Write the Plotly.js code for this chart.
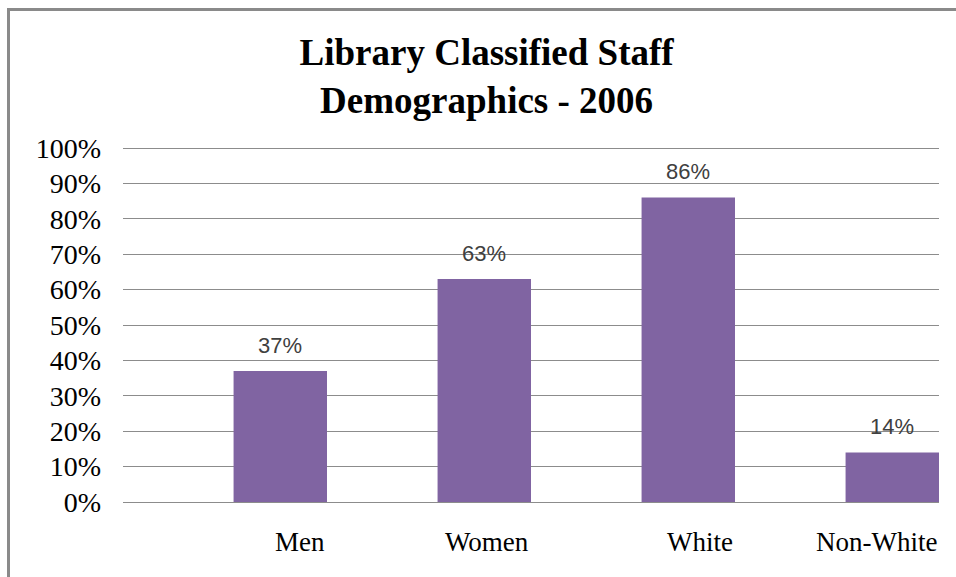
<!DOCTYPE html>
<html>
<head>
<meta charset="utf-8">
<script src="https://cdn.plot.ly/plotly-3.0.1.min.js"></script>
<style>
  html, body { margin: 0; padding: 0; background: #fff; overflow: hidden; }
  #chart { width: 956px; height: 577px; position: absolute; left: 0; top: 0; }
  #frame { position: absolute; left: 7px; top: 8px; width: 1000px; height: 1000px;
           border-top: 3px solid #8a8a8a; border-left: 3px solid #8a8a8a; pointer-events: none; }
</style>
</head>
<body>
<div id="chart"></div>
<div id="frame"></div>
<script>
const categories = ['Men', 'Women', 'White', 'Non-White'];
const values = [37, 63, 86, 14];
const valueLabels = ['37%', '63%', '86%', '14%'];
const titleText = 'Library Classified Staff<br>Demographics - 2006';

const barOffset = 0.042;
const barWidth = 0.458;

const trace = {
  type: 'bar',
  x: categories,
  y: values,
  offset: barOffset,
  width: barWidth,
  marker: { color: '#8064A2' },
  hoverinfo: 'skip'
};

const annotations = [];
values.forEach((v, i) => {
  annotations.push({
    x: i + barOffset + barWidth / 2, xref: 'x',
    y: v, yref: 'y',
    text: valueLabels[i], showarrow: false,
    xanchor: 'center', yanchor: 'middle', yshift: 26,
    font: { family: 'Liberation Sans, Arial, sans-serif', size: 22, color: '#404040' }
  });
});
categories.forEach((c, i) => {
  annotations.push({
    x: i + 0.5, xref: 'x',
    y: 0, yref: 'paper',
    text: c, showarrow: false,
    xanchor: 'right', yanchor: 'middle', yshift: -40,
    font: { family: 'Liberation Serif, Times New Roman, serif', size: 27, color: '#000' }
  });
});

const layout = {
  width: 956, height: 577,
  margin: { l: 123, r: 17, t: 147, b: 75, pad: 0 },
  paper_bgcolor: '#fff', plot_bgcolor: '#fff',
  showlegend: false,
  title: {
    text: titleText,
    font: { family: 'Liberation Serif, Times New Roman, serif', size: 37, color: '#000', weight: 'bold' },
    x: 0.509, xref: 'container', xanchor: 'center',
    y: 0.888, yref: 'container', yanchor: 'middle'
  },
  xaxis: {
    type: 'category',
    range: [-0.5, 3.5],
    showticklabels: false, showgrid: false, zeroline: false, showline: false, ticks: ''
  },
  yaxis: {
    range: [0, 100.3], dtick: 10, tick0: 0,
    ticksuffix: '%',
    showgrid: true, gridcolor: '#8c8c8c', gridwidth: 1,
    zeroline: true, zerolinecolor: '#8c8c8c', zerolinewidth: 1,
    showline: false, ticks: '',
    ticklabelstandoff: 21,
    tickfont: { family: 'Liberation Serif, Times New Roman, serif', size: 28, color: '#000' }
  },
  annotations: annotations
};

Plotly.newPlot('chart', [trace], layout, { displayModeBar: false, staticPlot: true });
</script>
</body>
</html>
